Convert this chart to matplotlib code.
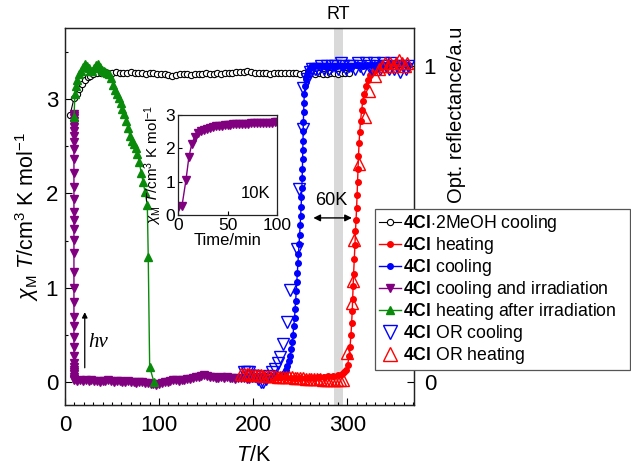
import matplotlib
matplotlib.use("Agg")
import matplotlib.pyplot as plt
import numpy as np
from matplotlib.lines import Line2D
from matplotlib.ticker import MultipleLocator, FixedLocator
import matplotlib.transforms as mtransforms

plt.rcParams['font.family'] = ['Liberation Sans', 'DejaVu Sans']
plt.rcParams['mathtext.fontset'] = 'custom'
plt.rcParams['mathtext.rm'] = 'Liberation Sans'
plt.rcParams['mathtext.it'] = 'Liberation Sans:italic'
plt.rcParams['mathtext.bf'] = 'Liberation Sans:bold'

# ---------------- data ----------------
# 4Cl·2MeOH cooling (open circles)
meoh_T = [5.3, 9.6, 12.6, 15, 18, 21, 24, 27, 30, 34, 38, 42, 46, 50, 54, 58, 62, 66, 70,
          74, 78, 82, 86, 90, 94, 98, 102, 106, 110, 114, 118, 122, 126, 130, 134, 138,
          142, 146, 150, 154, 158, 162, 166, 170, 174, 178, 182, 186, 190, 194, 198, 202,
          206, 210, 214, 218, 222, 226, 230, 234, 238, 242, 246, 250, 254, 258, 262, 266,
          270, 274, 278, 282, 286, 290, 294, 298, 302]
meoh_chi = [2.83, 3.01, 3.06, 3.11, 3.16, 3.20, 3.23, 3.25, 3.27, 3.28, 3.28, 3.29, 3.28, 3.28,
            3.29, 3.28, 3.28, 3.28, 3.29, 3.28, 3.28, 3.28, 3.27, 3.28, 3.28, 3.27, 3.27, 3.27,
            3.26, 3.25, 3.26, 3.27, 3.27, 3.27, 3.26, 3.27, 3.27, 3.27, 3.28, 3.27, 3.27, 3.28,
            3.27, 3.28, 3.28, 3.28, 3.29, 3.29, 3.29, 3.30, 3.29, 3.28, 3.28, 3.28, 3.28, 3.27,
            3.28, 3.28, 3.28, 3.28, 3.28, 3.28, 3.28, 3.27, 3.28, 3.28, 3.28, 3.27, 3.28, 3.27,
            3.27, 3.28, 3.28, 3.27, 3.28, 3.28, 3.28]

# 4Cl heating (red filled)
heat_T = [200, 205, 210, 215, 220, 225, 230, 235, 240, 245, 250, 255, 260, 265, 270, 275,
          280, 285, 290, 294, 297, 299, 300.5, 302, 303, 304, 304.7, 305.3, 305.8, 306.3,
          306.8, 307.5, 308.2, 308.8, 309.4, 310, 310.5, 311, 311.5, 312, 312.6, 313.3,
          314.2, 315.3, 316.6, 318, 320, 322, 324.5, 327, 330, 334, 338, 342, 346, 350, 354]
heat_chi = [0.07, 0.06, 0.06, 0.05, 0.05, 0.05, 0.05, 0.05, 0.04, 0.04, 0.04, 0.04, 0.04,
            0.04, 0.05, 0.05, 0.06, 0.06, 0.07, 0.08, 0.10, 0.13, 0.18, 0.28, 0.37, 0.50,
            0.62, 0.75, 0.88, 1.02, 1.15, 1.30, 1.45, 1.60, 1.72, 1.85, 1.98, 2.12, 2.26,
            2.40, 2.53, 2.65, 2.77, 2.88, 2.98, 3.06, 3.14, 3.20, 3.26, 3.29, 3.31, 3.33,
            3.35, 3.36, 3.36, 3.37, 3.37]

# 4Cl cooling (blue filled)
cool_T = [365, 361, 357, 353, 349, 345, 341, 337, 333, 329, 325, 321, 317, 313, 309, 305,
          301, 297, 293, 289, 285, 281, 277, 273, 269, 265, 262, 260, 258.3, 257, 256,
          255, 254.4, 254, 253.7, 253.4, 253.2, 253, 252.8, 252.6, 252.4, 252.1, 251.8,
          251.4, 251, 250.5, 250, 249.4, 248.8, 248.2, 247.6, 247, 246.4, 245.8, 245.2,
          244.6, 244, 243.2, 242.4, 241.5, 240.5, 239.3, 238, 236.5, 235, 233.5, 232,
          229, 226, 222, 218, 214, 210, 206, 202]
cool_chi = [3.36, 3.37, 3.37, 3.38, 3.37, 3.37, 3.36, 3.37, 3.37, 3.36, 3.36, 3.36, 3.35,
            3.36, 3.36, 3.35, 3.35, 3.35, 3.35, 3.35, 3.35, 3.35, 3.34, 3.35, 3.35, 3.35,
            3.34, 3.33, 3.30, 3.26, 3.21, 3.14, 3.06, 2.96, 2.86, 2.76, 2.66, 2.56, 2.46,
            2.36, 2.26, 2.16, 2.06, 1.96, 1.86, 1.76, 1.66, 1.56, 1.46, 1.36, 1.26, 1.16,
            1.06, 0.96, 0.86, 0.77, 0.68, 0.59, 0.50, 0.42, 0.35, 0.28, 0.22, 0.17, 0.13,
            0.10, 0.08, 0.06, 0.05, 0.05, 0.04, 0.04, 0.04, 0.04, 0.04]

# 4Cl cooling (purple) then irradiation at 10 K
irr_cool_T = [196, 193, 190, 187, 184, 181, 178, 175, 172, 169, 166, 163, 160, 157, 154,
              151, 148, 145, 142, 139, 136, 133, 130, 127, 124, 121, 118, 115, 112, 109,
              106, 103, 100, 97, 94, 91, 88, 85, 82, 79, 76, 73, 70, 67, 64, 61, 58, 55,
              52, 49, 46, 43, 40, 37, 34, 31, 28, 25, 22, 19, 16, 13, 10]
irr_cool_chi = [0.03, 0.03, 0.04, 0.04, 0.04, 0.03, 0.04, 0.04, 0.05, 0.04, 0.05, 0.04,
                0.04, 0.05, 0.05, 0.06, 0.07, 0.06, 0.05, 0.05, 0.04, 0.03, 0.03, 0.02,
                0.02, 0.01, 0.02, 0.02, 0.01, 0.00, 0.00, -0.01, -0.02, -0.03, -0.02,
                -0.02, -0.01, -0.01, 0.00, 0.00, -0.01, 0.00, 0.00, 0.01, 0.00, 0.00,
                0.01, 0.01, 0.00, 0.01, 0.02, 0.01, 0.01, 0.00, 0.01, 0.01, 0.02, 0.01,
                0.02, 0.01, 0.02, 0.01, 0.02]
irr_T = 9.5
irr_chi = [0.03, 0.05, 0.08, 0.10, 0.13, 0.16, 0.20, 0.27, 0.37, 0.48, 0.59, 0.69, 0.85,
           1.00, 1.17, 1.37, 1.51, 1.62, 1.72, 1.80, 1.94, 2.07, 2.22, 2.36, 2.47, 2.55,
           2.61, 2.66, 2.70, 2.74, 2.77, 2.80, 2.82, 2.84]

# 4Cl heating after irradiation (green)
hai_T = [9.6, 10.5, 11.5, 13, 15, 17, 19, 21, 23, 25, 27, 29, 31, 33, 35, 37, 39, 41, 43,
         45, 47, 49, 51, 53, 55, 57, 59, 61, 63, 65, 67, 69, 71, 73, 75, 77, 79, 81, 83,
         85, 87.5, 88.5, 90, 94.5]
hai_chi = [2.81, 3.05, 3.14, 3.20, 3.27, 3.30, 3.34, 3.37, 3.35, 3.33, 3.30, 3.30, 3.33,
           3.36, 3.37, 3.34, 3.31, 3.30, 3.29, 3.28, 3.27, 3.22, 3.15, 3.10, 3.06, 3.01,
           2.96, 2.90, 2.84, 2.77, 2.69, 2.61, 2.56, 2.52, 2.48, 2.42, 2.33, 2.22, 2.12,
           2.02, 1.88, 1.32, 0.16, 0.00]

# optical reflectance, cooling (blue open down triangles)
orc_T = [365, 362, 359, 356, 353, 350, 347, 344, 341, 338, 335, 332, 329, 326, 323, 320,
         317, 314, 311, 308, 305, 302, 299, 296, 293, 290, 287, 284, 281, 278, 275, 272,
         269, 266, 263, 260, 257, 253.5, 253, 249, 246.5, 239, 236, 232, 229, 226, 223,
         220, 217, 214, 211, 208, 205, 202, 199, 196, 193, 190]
orc_R = [1.00, 0.99, 1.00, 0.98, 1.00, 0.99, 1.01, 0.99, 1.00, 1.01, 0.99, 1.00, 1.01,
         0.99, 1.00, 1.01, 0.99, 1.00, 1.01, 0.99, 1.00, 1.00, 0.99, 1.00, 1.01, 0.99,
         1.00, 1.00, 0.99, 1.00, 0.99, 1.00, 0.99, 0.99, 0.99, 0.98, 0.96, 0.93, 0.80,
         0.61, 0.42, 0.29, 0.19, 0.12, 0.08, 0.06, 0.04, 0.03, 0.02, 0.01, 0.00, 0.00,
         0.01, 0.02, 0.02, 0.03, 0.03, 0.03]

# optical reflectance, heating (red open up triangles)
orh_T = [187, 190, 193, 196, 199, 202, 205, 208, 211, 214, 217, 220, 223, 226, 229, 232,
         235, 238, 241, 244, 247, 250, 253, 256, 259, 262, 265, 268, 271, 274, 277, 280,
         283, 286, 289, 292, 295, 300, 305, 306.5, 307.5, 313, 319, 323, 330, 334, 337,
         340, 343, 346, 349, 352, 355, 358, 361, 364]
orh_R = [0.025, 0.025, 0.024, 0.024, 0.023, 0.022, 0.022, 0.021, 0.020, 0.020, 0.019,
         0.018, 0.018, 0.017, 0.016, 0.016, 0.015, 0.014, 0.014, 0.013, 0.012, 0.012,
         0.011, 0.010, 0.010, 0.009, 0.009, 0.008, 0.008, 0.007, 0.007, 0.006, 0.006,
         0.005, 0.005, 0.005, 0.006, 0.09, 0.25, 0.32, 0.45, 0.69, 0.84, 0.92, 0.97,
         0.99, 1.00, 1.01, 1.00, 1.01, 1.00, 1.01, 1.02, 1.01, 1.00, 1.01]

# inset: irradiation at 10 K vs time
ins_t = [0, 4, 8, 11, 14, 17, 20, 23, 26, 29, 32, 35, 38, 41, 44, 47, 50, 53, 56, 59, 62,
         65, 68, 71, 74, 77, 80, 83, 86, 89, 92, 95, 98, 100]
ins_chi = [0.25, 0.27, 1.04, 1.74, 2.14, 2.35, 2.45, 2.51, 2.56, 2.59, 2.62, 2.64, 2.66,
           2.67, 2.68, 2.69, 2.70, 2.71, 2.72, 2.72, 2.73, 2.73, 2.74, 2.74, 2.75, 2.75,
           2.75, 2.76, 2.76, 2.76, 2.77, 2.77, 2.78, 2.78]

RED = '#ff0000'
BLUE = '#0000ff'
PURPLE = '#800080'
GREEN = '#0a8a0a'

# ---------------- figure ----------------
fig = plt.figure(figsize=(6.31, 4.66), dpi=100)
ax = fig.add_axes([65/631, 1-405/466, (414-65)/631, (405-28)/466])
ax2 = ax.twinx()

ax.axvspan(286, 295, color='#d9d9d9', zorder=0, lw=0)

ax.plot(meoh_T, meoh_chi, '-o', color='k', mfc='white', mec='k', ms=4.5, mew=0.8, lw=0.8, zorder=3)
p_T = irr_cool_T + [irr_T] * len(irr_chi)
p_chi = irr_cool_chi + irr_chi
ax.plot(p_T, p_chi, '-v', color=PURPLE, ms=6, lw=1, zorder=4)
ax.plot(hai_T, hai_chi, '-^', color=GREEN, ms=6, lw=1, zorder=4)
ax.plot(cool_T, cool_chi, '-o', color=BLUE, ms=4, lw=1, zorder=4)
ax.plot(heat_T, heat_chi, '-o', color=RED, ms=4, lw=1, zorder=4)

ax2.plot(orc_T, orc_R, 'v', mfc='none', mec=BLUE, ms=8, mew=1, zorder=5)
ax2.plot(orh_T, orh_R, '^', mfc='none', mec=RED, ms=8, mew=1, zorder=5)

ax.set_xlim(0, 371)
ax.set_ylim(-0.245, 3.755)
ax2.set_ylim(-0.245/3.351, 3.755/3.351)

ax.xaxis.set_major_locator(FixedLocator([0, 100, 200, 300]))
ax.xaxis.set_minor_locator(MultipleLocator(10))
ax.yaxis.set_major_locator(FixedLocator([0, 1, 2, 3]))
ax.yaxis.set_minor_locator(MultipleLocator(0.5))
ax2.yaxis.set_major_locator(FixedLocator([0, 1]))

ax.tick_params(which='both', direction='in', labelsize=16, top=False, right=False)
ax.tick_params(which='major', length=5, width=0.8)
ax.tick_params(which='minor', length=2.5, width=0.8)
ax.tick_params(axis='x', pad=7)
ax.tick_params(axis='y', pad=5)
ax2.tick_params(which='both', direction='in', labelsize=16, length=5, width=0.8, pad=7)

for a in (ax, ax2):
    for s in a.spines.values():
        s.set_linewidth(0.9)
        s.set_color('#222222')

ax.set_xlabel('$T$/K', fontsize=15.5)
ax.xaxis.set_label_coords(0.54, -0.105)
ax.set_ylabel(r'$\chi_{\mathrm{M}}$ $T$/cm$^3$ K mol$^{-1}$', fontsize=15.5)
ax.yaxis.set_label_coords(-0.068, 0.5)
ax2.set_ylabel('Opt. reflectance/a.u', fontsize=14.5)
ax2.yaxis.set_label_coords(1.095, 0.77)

# annotations
trans = mtransforms.blended_transform_factory(ax.transData, ax.transAxes)
ax.text(290, 1.035, 'RT', transform=trans, ha='center', va='center', fontsize=13)
ax.annotate('', xy=(305, 1.74), xytext=(264, 1.74),
            arrowprops=dict(arrowstyle='<|-|>', color='k', lw=1, mutation_scale=10,
                            shrinkA=0, shrinkB=0), zorder=6)
ax.text(283, 1.92, '60K', ha='center', va='center', fontsize=13)
ax.annotate('', xy=(21, 0.74), xytext=(21, 0.15),
            arrowprops=dict(arrowstyle='-|>', color='k', lw=0.9, mutation_scale=8,
                            shrinkA=0, shrinkB=0))
ax.text(25, 0.42, 'hν', fontsize=15, style='italic', family=['Liberation Serif'],
        ha='left', va='center')

# inset
axi = fig.add_axes([178/631, 1-215/466, (277-178)/631, 100/466])
axi.plot(ins_t, ins_chi, '-v', color=PURPLE, ms=6, lw=1)
axi.set_xlim(0, 100)
axi.set_ylim(0, 3)
axi.xaxis.set_major_locator(FixedLocator([0, 50, 100]))
axi.yaxis.set_major_locator(FixedLocator([0, 1, 2, 3]))
axi.tick_params(direction='in', labelsize=12.5, length=3, pad=2)
for s in axi.spines.values():
    s.set_linewidth(0.9)
    s.set_color('#222222')
axi.set_xlabel('Time/min', fontsize=12, labelpad=0)
axi.set_ylabel(r'$\chi_{\mathrm{M}}$ $T$/cm$^3$ K mol$^{-1}$', fontsize=11, labelpad=1)
axi.text(0.93, 0.22, '10K', transform=axi.transAxes, ha='right', va='center', fontsize=12)

# legend
handles = [
    Line2D([], [], color='k', marker='o', mfc='white', mec='k', ms=4.5, mew=0.8, lw=0.8),
    Line2D([], [], color=RED, marker='o', ms=4, lw=1),
    Line2D([], [], color=BLUE, marker='o', ms=4, lw=1),
    Line2D([], [], color=PURPLE, marker='v', ms=6, lw=1),
    Line2D([], [], color=GREEN, marker='^', ms=6, lw=1),
    Line2D([], [], ls='none', marker='v', mfc='none', mec=BLUE, ms=10, mew=1),
    Line2D([], [], ls='none', marker='^', mfc='none', mec=RED, ms=10, mew=1),
]
labels = [
    r'$\mathbf{4Cl}$$\cdot$2MeOH cooling',
    r'$\mathbf{4Cl}$ heating',
    r'$\mathbf{4Cl}$ cooling',
    r'$\mathbf{4Cl}$ cooling and irradiation',
    r'$\mathbf{4Cl}$ heating after irradiation',
    r'$\mathbf{4Cl}$ OR cooling',
    r'$\mathbf{4Cl}$ OR heating',
]
leg = fig.legend(handles, labels, loc='upper left',
                 bbox_to_anchor=(375/631, 1-365/466, (630-375)/631, (365-209)/466),
                 mode='expand',
                 fontsize=12.7, frameon=True, fancybox=False, edgecolor='#555555',
                 framealpha=1, handlelength=1.2, handletextpad=0.15, labelspacing=0.05,
                 borderpad=0.25, borderaxespad=0)
leg.get_frame().set_linewidth(0.9)

fig.savefig('out.png', dpi=100)
